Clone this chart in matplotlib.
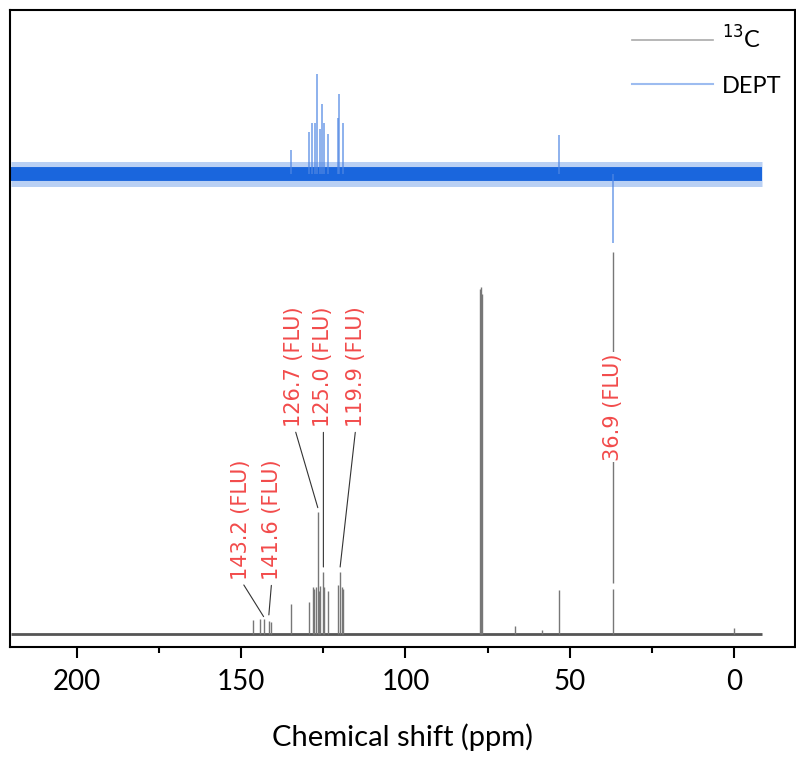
import matplotlib.pyplot as plt

# 13C spectrum peaks (ppm, intensity normalised to CDCl3 = 1)
c13_ppm = [146.3, 144.3, 143.2, 141.6, 141.0, 134.8, 129.3, 128.3, 127.8, 127.3,
           126.7, 126.3, 126.0, 125.0, 124.7, 123.6, 120.4, 119.9, 119.4, 118.9,
           77.3, 77.0, 76.7, 66.6, 58.5, 53.4, 36.9, 0.0]
c13_int = [0.040, 0.043, 0.043, 0.037, 0.035, 0.086, 0.092, 0.135, 0.130, 0.135,
           0.352, 0.124, 0.138, 0.179, 0.135, 0.124, 0.141, 0.179, 0.135, 0.130,
           0.994, 1.000, 0.980, 0.023, 0.012, 0.127, 0.130, 0.017]

# DEPT peaks (ppm, intensity), drawn with an offset above the 13C trace
dept_ppm = [134.9, 129.3, 128.4, 127.5, 126.8, 126.0, 125.3, 124.7, 123.7,
            120.4, 120.2, 118.9, 53.4, 36.9]
dept_int = [0.069, 0.121, 0.147, 0.147, 0.288, 0.130, 0.202, 0.147, 0.115,
            0.161, 0.231, 0.147, 0.112, -0.199]
dept_offset = 1.326

# labelled FLU peaks: peak position, label position
lab_ppm = [143.2, 141.6, 126.7, 125.0, 119.9]
lab_tip = [0.050, 0.055, 0.364, 0.193, 0.193]
lab_x = [150.2, 140.7, 133.9, 125.0, 115.1]
lab_y = [0.156, 0.156, 0.597, 0.597, 0.597]

ppm_start, ppm_end = 220.0, -8.5

fig = plt.figure(figsize=(7.96, 7.60), dpi=100)
ax = fig.add_axes([0.0126, 0.1487, 0.9862, 0.8381])

# baselines (noise band drawn as a thick line)
ax.plot([ppm_start, ppm_end], [0, 0], c='#555555', lw=2.0, solid_capstyle='butt')
ax.plot([ppm_start, ppm_end], [dept_offset, dept_offset], c='#1a66dd', lw=18,
        alpha=0.3, solid_capstyle='butt')
ax.plot([ppm_start, ppm_end], [dept_offset, dept_offset], c='#1a66dd', lw=10,
        solid_capstyle='butt')

# peaks
ax.vlines(c13_ppm, 0, c13_int, colors='#777777', lw=1.0)
ax.vlines(dept_ppm, dept_offset, [dept_offset + v for v in dept_int],
          colors='#4f86e3', lw=1.2, alpha=0.75)

# legend proxies
ax.plot([], [], c='#aaaaaa', lw=1.2, label='$^{13}$C')
ax.plot([], [], c='#9dbcf0', lw=1.5, label='DEPT')

red = '#f24b4b'
for p, tip, tx, ty in zip(lab_ppm, lab_tip, lab_x, lab_y):
    ax.annotate(f'{p:.1f} (FLU)', xy=(p, tip), xytext=(tx, ty),
                rotation=90, ha='center', va='bottom', color=red, fontsize=15,
                arrowprops=dict(arrowstyle='-', color='#333333', lw=0.8,
                                shrinkA=2, shrinkB=0, relpos=(0.5, 0)))

# 36.9 label sits on its own guide line
ax.vlines(36.9, 0.147, 1.10, colors='#777777', lw=1.0)
ax.text(36.9, 0.654, '36.9 (FLU)', rotation=90, ha='center', va='center',
        color=red, fontsize=15,
        bbox=dict(facecolor='white', edgecolor='none', pad=1))

ax.set_xlim(220.4, -18.6)
ax.set_ylim(-0.0375, 1.798)
ax.set_yticks([])
ax.set_xticks([200, 150, 100, 50, 0])
ax.set_xticks([175, 125, 75, 25], minor=True)
ax.tick_params(axis='x', which='major', direction='out', length=8, width=1.5,
               labelsize=20, pad=8)
ax.tick_params(axis='x', which='minor', direction='out', length=4, width=1.5)
for lab in ax.get_xticklabels():
    lab.set_family('Lato')
for s in ax.spines.values():
    s.set_linewidth(1.5)

ax.set_xlabel('Chemical shift (ppm)', fontsize=21, family='Lato', labelpad=20)

ax.legend(loc='upper right', bbox_to_anchor=(1.01, 1.01), frameon=False,
          prop={'family': 'Lato', 'size': 17}, handlelength=3.4,
          labelspacing=1.0, handletextpad=0.4)

fig.savefig('out.png', dpi=100)
